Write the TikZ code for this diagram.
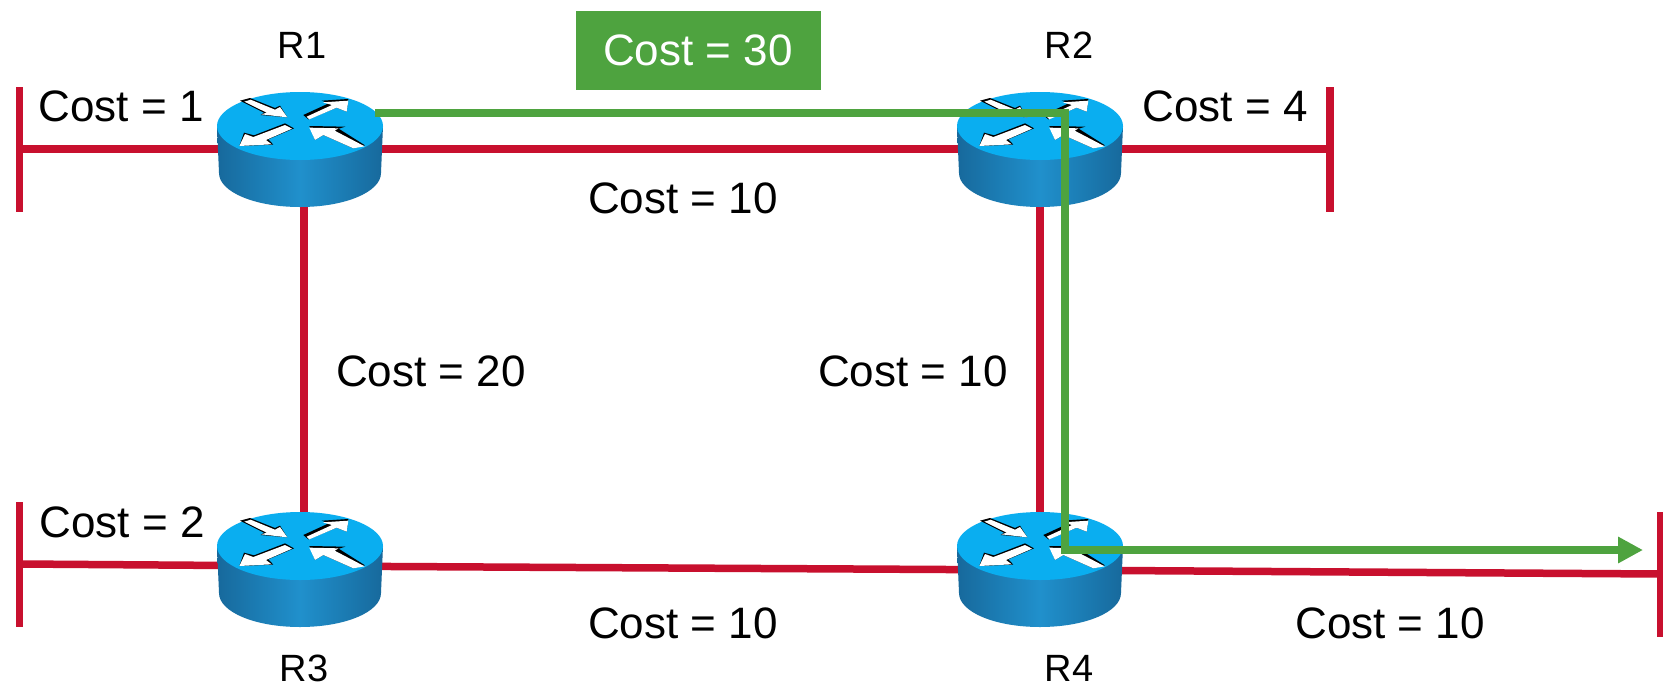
\documentclass[tikz,border=0pt]{standalone}
\usepackage{fontspec}
\setmainfont{Liberation Sans}
\usetikzlibrary{arrows.meta}
\definecolor{linkred}{HTML}{C8102E}
\definecolor{pathgreen}{HTML}{4EA33F}
\definecolor{rtop}{HTML}{0AAEF0}
\definecolor{rdark}{HTML}{17699C}
\definecolor{rmid}{HTML}{2090CC}
\tikzset{
  link/.style={draw=linkred,line width=7.5pt},
  route/.style={draw=pathgreen,line width=8pt,line join=miter},
  costlabel/.style={font=\fontsize{44}{44}\selectfont,inner sep=0pt,text=black},
  rlabel/.style={font=\fontsize{38}{38}\selectfont,inner sep=0pt,text=black},
  hub/.style={inner sep=0pt,minimum width=166pt,minimum height=115pt},
  costbox/.style={fill=pathgreen,text=white,font=\fontsize{44}{44}\selectfont,minimum width=245pt,minimum height=79pt,inner sep=0pt},
}
\newcommand{\routerbody}[1]{%
\begin{scope}[shift={(#1)},x=1pt,y=1pt]
  \shade[left color=rdark,right color=rdark,middle color=rmid]
    (-83,0) -- (-81,-47) .. controls (-81,-66) and (-45,-81) .. (0,-81)
    .. controls (45,-81) and (81,-66) .. (81,-47) -- (83,0) -- cycle;
  \fill[rtop] (0,0) ellipse [x radius=83pt,y radius=34pt];
\end{scope}
\begin{scope}[shift={(#1)},x=0.3333pt,y=-0.3333pt]
\begin{scope}[shift={(-330,-168)}]
  % top-left arrow
  \fill[black] (150,92) -- (180,84) -- (255,114) -- (270,107) -- (292,142) -- (212,135) -- (222,128) -- cycle;
  \fill[white] (163,95) -- (182,89) -- (255,119) -- (270,111) -- (292,142) -- (214,133) -- (230,128) -- cycle;
  % top-right arrow
  \fill[black] (340,135) -- (416,100) -- (395,92) -- (475,87) -- (470,125) -- (440,113) -- (355,148) -- cycle;
  \fill[white] (350,140) -- (426,105) -- (398,97) -- (475,92) -- (470,125) -- (440,113) -- (358,148) -- cycle;
  % bottom-left arrow
  \fill[black] (148,228) -- (162,188) -- (192,196) -- (285,160) -- (312,175) -- (235,208) -- (250,224) -- cycle;
  \fill[white] (148,228) -- (165,192) -- (190,201) -- (285,165) -- (306,176) -- (228,210) -- (245,223) -- cycle;
  % bottom-right arrow
  \fill[black] (358,168) -- (466,170) -- (446,176) -- (525,226) -- (490,235) -- (400,195) -- (375,210) -- cycle;
  \fill[white] (358,173) -- (446,175) -- (434,182) -- (524,229) -- (490,235) -- (400,195) -- (375,210) -- cycle;
\end{scope}
\end{scope}}
\begin{document}
\begin{tikzpicture}[x=1pt,y=-1pt]
\useasboundingbox (0,0) rectangle (1663,694);
\fill[white] (0,0) rectangle (1663,694);
\node[hub] (R1) at (300,149) {};
\node[hub] (R2) at (1040,149) {};
\node[hub] (R3) at (300,566) {};
\node[hub] (R4) at (1040,570) {};
\coordinate (B1t) at (19.5,87);   \coordinate (B1m) at (19.5,149);  \coordinate (B1b) at (19.5,212);
\coordinate (B2t) at (1330,87); \coordinate (B2m) at (1330,149);\coordinate (B2b) at (1330,212);
\coordinate (B3t) at (19.5,502);  \coordinate (B3m) at (19.5,564);  \coordinate (B3b) at (19.5,627);
\coordinate (B4t) at (1661,512);\coordinate (B4m) at (1661,574);\coordinate (B4b) at (1661,637);
\draw[link] (B1t) -- (B1b);
\draw[link] (B2t) -- (B2b);
\draw[link] (B3t) -- (B3b);
\draw[link] (B4t) -- (B4b);
\draw[link] (B1m) -- (R1.center);
\draw[link] (R1.center) -- (R2.center);
\draw[link] (R2.center) -- (B2m);
\draw[link] (B3m) -- (R3.center);
\draw[link] (R3.center) -- (R4.center);
\draw[link] (R4.center) -- (B4m);
\draw[link] ([xshift=4pt]R1.center) -- ([xshift=4pt]R3.center);
\draw[link] (R2.center) -- (R4.center);
\routerbody{300,126}
\routerbody{1040,126}
\routerbody{300,546}
\routerbody{1040,546}
\coordinate (G1) at (375,113);
\coordinate (G2) at (1065,113);
\coordinate (G3) at (1065,550);
\coordinate (G4) at (1643,550);
\draw[route,-{Triangle[length=25pt,width=25pt]}] (G1) -- (G2) -- (G3) -- (G4);
\node[costbox] (box) at (698,50) {Cost = 30};
\node[rlabel] (lR1) at (302,45) {R1};
\node[rlabel] (lR2) at (1069,45) {R2};
\node[rlabel] (lR3) at (304,668) {R3};
\node[rlabel] (lR4) at (1069,668) {R4};
\node[costlabel] (c1) at (121,106) {Cost = 1};
\node[costlabel] (c4) at (1225,106) {Cost = 4};
\node[costlabel] (c12) at (683,198) {Cost = 10};
\node[costlabel] (c13) at (431,371) {Cost = 20};
\node[costlabel] (c24) at (913,371) {Cost = 10};
\node[costlabel] (c2) at (122,522) {Cost = 2};
\node[costlabel] (c34) at (683,623) {Cost = 10};
\node[costlabel] (c4e) at (1390,623) {Cost = 10};
\end{tikzpicture}
\end{document}
